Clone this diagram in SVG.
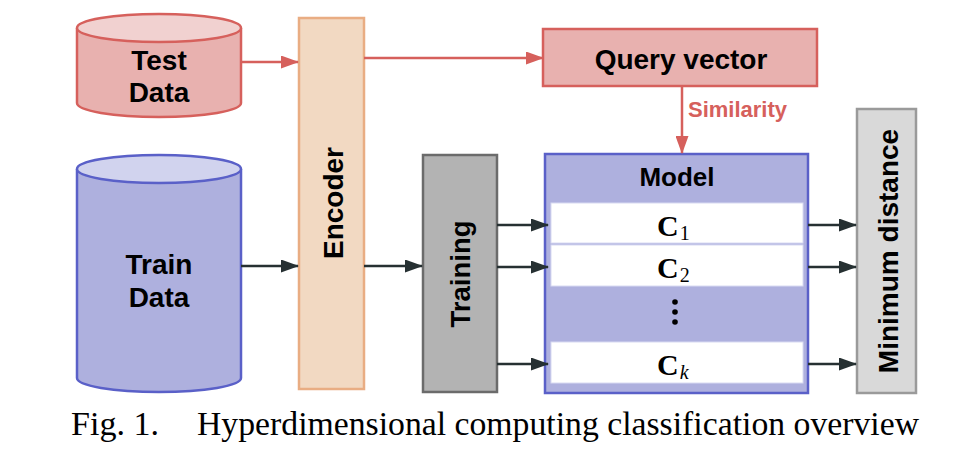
<svg xmlns="http://www.w3.org/2000/svg" width="980" height="460" viewBox="0 0 980 460">
<defs>
<marker id="ah" viewBox="0 0 18 13" refX="17" refY="6.5" markerWidth="18" markerHeight="13" markerUnits="userSpaceOnUse" orient="auto"><path d="M0,0 L18,6.5 L0,13 z" fill="#263032"/></marker>
<marker id="ahr" viewBox="0 0 18 13" refX="17" refY="6.5" markerWidth="18" markerHeight="13" markerUnits="userSpaceOnUse" orient="auto"><path d="M0,0 L18,6.5 L0,13 z" fill="#d6605c"/></marker>
<style>
.lbl{font-family:"Liberation Sans",Arial,sans-serif;font-weight:bold;fill:#000;text-anchor:middle}
.math{font-family:"Liberation Serif","Times New Roman",serif;font-weight:bold;fill:#000}
.blk{stroke:#263032;stroke-width:2.5;fill:none;marker-end:url(#ah)}
.red{stroke:#d6605c;stroke-width:2.5;fill:none;marker-end:url(#ahr)}
.row{fill:#fff;stroke:#d8daf2;stroke-width:1}
</style>
</defs>
<rect width="980" height="460" fill="#fff"/>
<g id="test-data">
<path d="M77,28 L77,103 A82,14 0 0 0 241,103 L241,28" fill="#e8b1af" stroke="#d6605c" stroke-width="2.5"/>
<ellipse cx="159" cy="28" rx="82" ry="14" fill="#f1d1d0" stroke="#d6605c" stroke-width="2.5"/>
<text class="lbl" x="159" y="70" font-size="28">Test</text>
<text class="lbl" x="159" y="102" font-size="28">Data</text>
</g>
<g id="train-data">
<path d="M77,169 L77,378 A82,14 0 0 0 241,378 L241,169" fill="#aeb0de" stroke="#5a60c8" stroke-width="2.5"/>
<ellipse cx="159" cy="169" rx="82" ry="14" fill="#d1d3ee" stroke="#5a60c8" stroke-width="2.5"/>
<text class="lbl" x="159" y="274" font-size="28">Train</text>
<text class="lbl" x="159" y="307" font-size="28">Data</text>
</g>
<g id="encoder">
<rect x="299" y="18" width="65" height="371" fill="#f2d9c2" stroke="#e9ad83" stroke-width="2.5"/>
<text class="lbl" font-size="28" transform="translate(343,203) rotate(-90)">Encoder</text>
</g>
<g id="query-vector">
<rect x="543" y="29" width="274" height="57" fill="#e8b1af" stroke="#d6605c" stroke-width="2.5"/>
<text class="lbl" x="681" y="69" font-size="28">Query vector</text>
</g>
<g id="training">
<rect x="423" y="155" width="74" height="237" fill="#b3b3b3" stroke="#6b6b6b" stroke-width="2.5"/>
<text class="lbl" font-size="27.5" transform="translate(470,274) rotate(-90)">Training</text>
</g>
<g id="model">
<rect x="545" y="154" width="263" height="239" fill="#aeb0de" stroke="#5a60c8" stroke-width="2.5"/>
<text class="lbl" x="677" y="186" font-size="26">Model</text>
<rect class="row" x="551" y="203" width="252" height="40"/>
<rect class="row" x="551" y="245" width="252" height="41"/>
<rect class="row" x="551" y="342" width="252" height="41"/>
<text class="math" x="657" y="236" font-size="30">C<tspan font-size="20" font-weight="normal" dx="1" dy="4">1</tspan></text>
<text class="math" x="657" y="278" font-size="30">C<tspan font-size="20" font-weight="normal" dx="1" dy="4">2</tspan></text>
<text class="math" x="657" y="375" font-size="30">C<tspan font-size="20" font-weight="normal" font-style="italic" dx="1" dy="4">k</tspan></text>
<circle cx="675" cy="302" r="2.8" fill="#000"/>
<circle cx="675" cy="312" r="2.8" fill="#000"/>
<circle cx="675" cy="322" r="2.8" fill="#000"/>
</g>
<g id="min-distance">
<rect x="857" y="109" width="59" height="284" fill="#d9d9d9" stroke="#9a9a9a" stroke-width="2.5"/>
<text class="lbl" font-size="28" transform="translate(898,251) rotate(-90)">Minimum distance</text>
</g>
<g id="connectors">
<line class="red" x1="241" y1="62" x2="298" y2="62"/>
<line class="red" x1="364" y1="58" x2="543" y2="58"/>
<line class="red" x1="682" y1="86" x2="682" y2="153"/>
<text x="688" y="117" font-family="Liberation Sans,Arial,sans-serif" font-weight="bold" font-size="22" fill="#d6605c">Similarity</text>
<line class="blk" x1="241" y1="266" x2="298" y2="266"/>
<line class="blk" x1="364" y1="266" x2="422" y2="266"/>
<line class="blk" x1="497" y1="225" x2="548" y2="225"/>
<line class="blk" x1="497" y1="267" x2="548" y2="267"/>
<line class="blk" x1="497" y1="364" x2="548" y2="364"/>
<line class="blk" x1="808" y1="225" x2="856" y2="225"/>
<line class="blk" x1="808" y1="267" x2="856" y2="267"/>
<line class="blk" x1="808" y1="364" x2="856" y2="364"/>
</g>
<text x="71" y="435" font-family="Liberation Serif,Times New Roman,serif" font-size="33" fill="#000" textLength="88" lengthAdjust="spacingAndGlyphs">Fig. 1.</text>
<text x="197" y="435" font-family="Liberation Serif,Times New Roman,serif" font-size="33" fill="#000" textLength="722" lengthAdjust="spacingAndGlyphs">Hyperdimensional computing classification overview</text>
</svg>
